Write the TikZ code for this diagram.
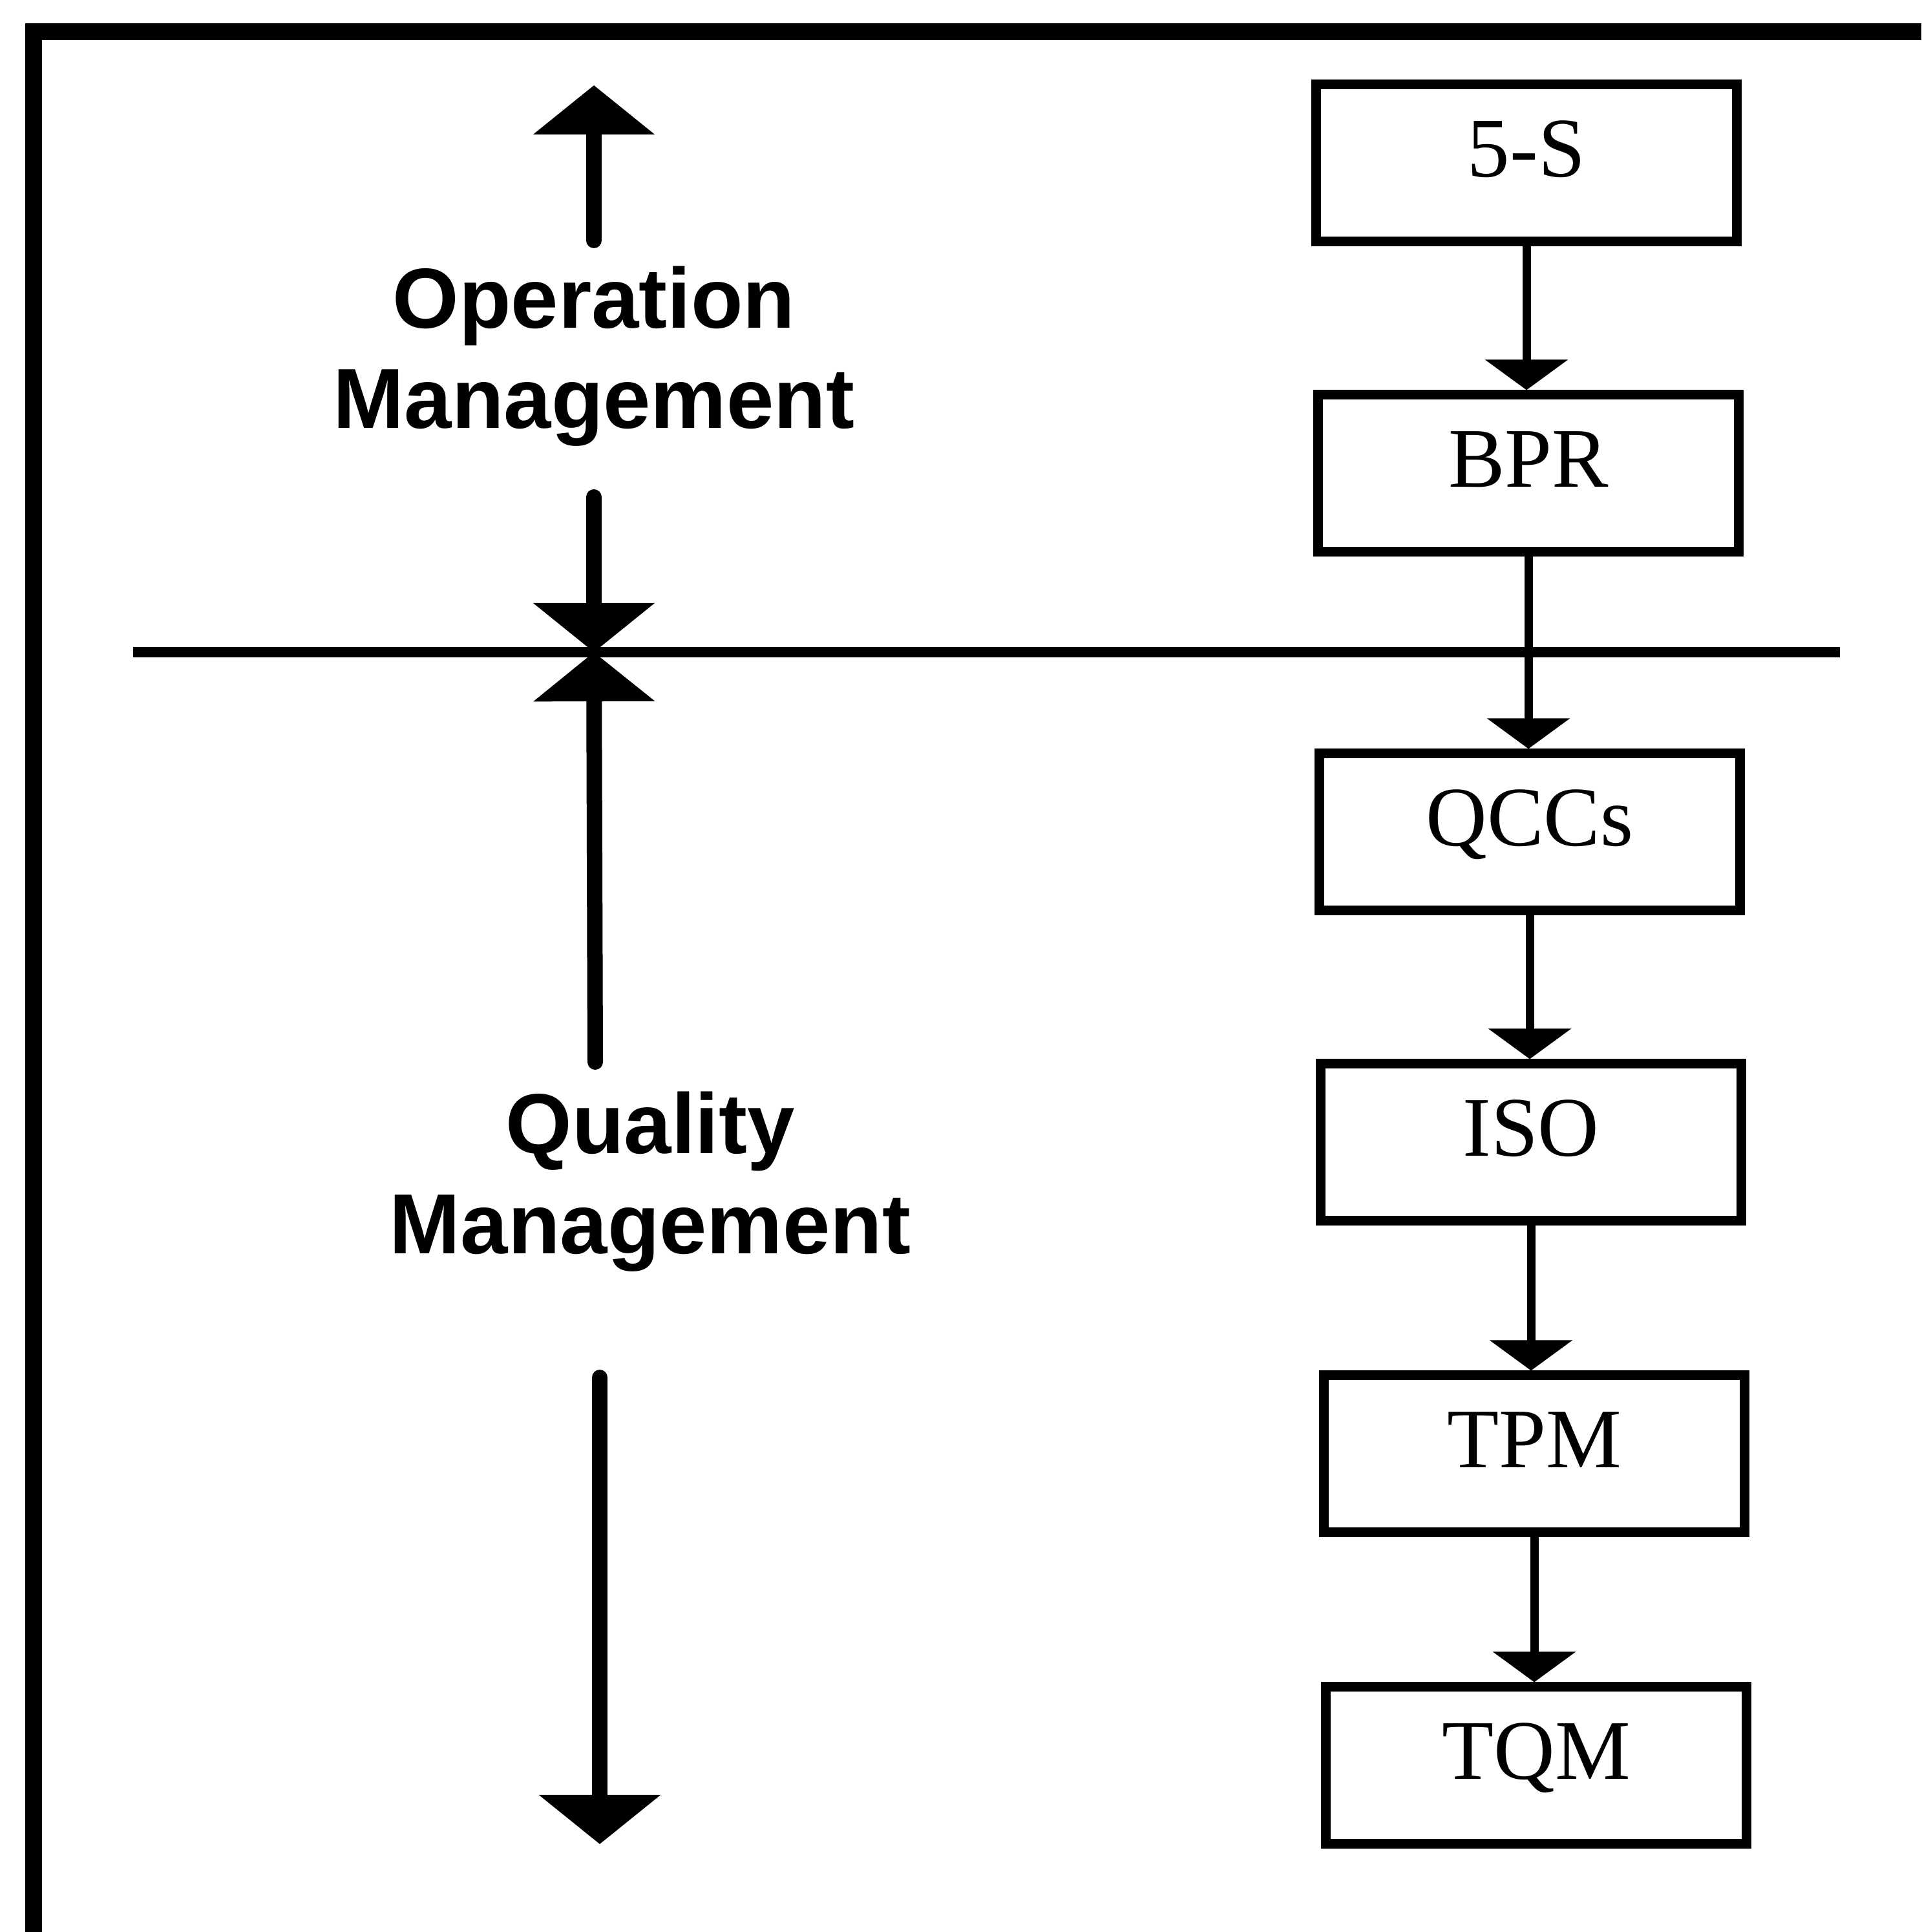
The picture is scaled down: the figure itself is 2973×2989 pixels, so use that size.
\documentclass[tikz,border=0pt]{standalone}
\usepackage{fontspec}
\setmainfont{Liberation Serif}
\newfontfamily\labelfont{Liberation Sans}
\usepackage{tikz}
\usetikzlibrary{arrows.meta,calc,positioning}
\tikzstyle{stage} = [draw, line width=0.15cm, minimum width=6.5cm, minimum height=2.42cm, inner sep=0pt, text height=0.87cm, text depth=0.44cm, font=\fontsize{37.3}{44}\selectfont]
\tikzstyle{flow} = [line width=0.13cm, -{Triangle[width=1.26cm,length=0.47cm]}]
\tikzstyle{bigarrow} = [line width=0.24cm, line cap=round, -{Triangle[width=1.84cm,length=0.76cm]}]
\tikzstyle{side} = [align=center, inner sep=0pt, font=\labelfont\bfseries\fontsize{37.5}{44}\selectfont]
\begin{document}
\begin{tikzpicture}[x=0.01cm,y=-0.01cm]
\useasboundingbox (0,0) rectangle (2973,2989);
\draw[line width=0.26cm] (52,2989) -- (52,49) -- (2973,49);

\node[stage] (fives) at (2362,252) {5-S};
\node[stage] (bpr) at (2365,732) {BPR};
\node[stage] (qccs) at (2367,1287) {QCCs};
\node[stage] (iso) at (2369,1767) {ISO};
\node[stage] (tpm) at (2374,2249) {TPM};
\node[stage] (tqm) at (2377,2731) {TQM};

\draw[flow] (fives.south) -- (fives.south |- bpr.north);
\draw[flow] (bpr.south) -- (bpr.south |- qccs.north);
\draw[flow] (qccs.south) -- (qccs.south |- iso.north);
\draw[flow] (iso.south) -- (iso.south |- tpm.north);
\draw[flow] (tpm.south) -- (tpm.south |- tqm.north);

\coordinate (divl) at (206,1009);
\coordinate (divr) at (2847,1009);
\draw[line width=0.15cm] (divl) -- (divr);

\node[side] (opm) at (919,551) {Operation\\Management};
\node[side] (qm) at (1006,1828) {Quality\\Management};

\coordinate (cross) at (919,1009);
\coordinate (optop) at (919,132);
\coordinate (opup) at (919,372);
\coordinate (opdown) at (919,769);
\coordinate (qmup) at (921,1643);
\coordinate (qmdown) at (928,2131);
\coordinate (qmend) at (928,2853);
\draw[bigarrow] (opup) -- (optop);
\draw[bigarrow] (opdown) -- (cross);
\draw[bigarrow] (qmup) -- (cross);
\draw[bigarrow] (qmdown) -- (qmend);
\end{tikzpicture}
\end{document}
